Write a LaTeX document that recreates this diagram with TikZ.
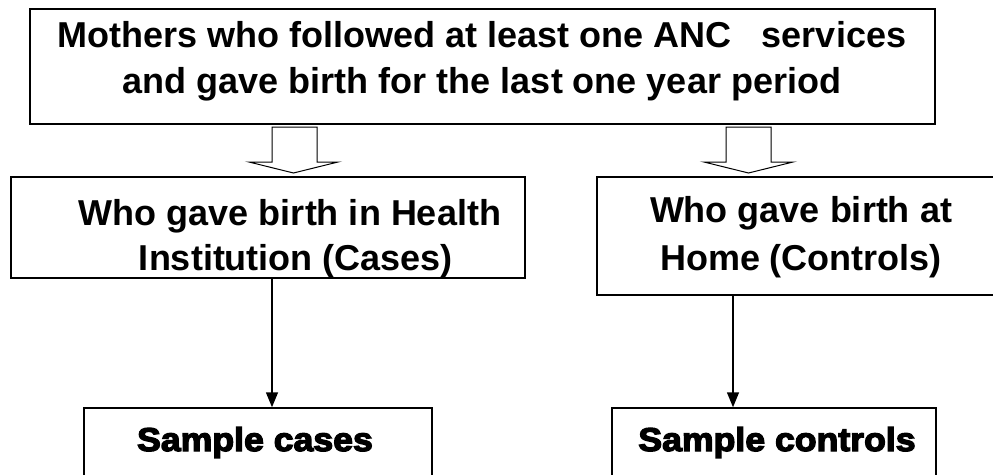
\documentclass[tikz,border=0pt]{standalone}
\usepackage{fontspec}
\setmainfont{Liberation Sans}
\newfontfamily\blackfont[FakeBold=4,FakeStretch=1.08]{Liberation Sans Bold}
\usetikzlibrary{arrows.meta}
\begin{document}
\begin{tikzpicture}[x=1pt,y=-1pt,
  box/.style={draw, line width=1.5pt, inner sep=0pt},
  blockarrow/.style={draw, line width=1pt, fill=white},
  conn/.style={draw, line width=1.5pt, -{Triangle[length=15pt,width=12pt]}},
  txt/.style={anchor=base, inner sep=0pt, font=\bfseries\fontsize{36}{40}\selectfont},
  blk/.style={anchor=base, inner sep=0pt, font=\blackfont\fontsize{33}{36}\selectfont}]
\useasboundingbox (0,0) rectangle (993,474);
\clip (0,0) rectangle (993,474);
% boxes
\node[box, minimum width=905pt, minimum height=115pt] (top) at (482.5,66.5) {};
\node[box, minimum width=514pt, minimum height=101pt] (mid1) at (268,227.5) {};
\node[box, minimum width=413pt, minimum height=118pt] (mid2) at (803.5,236) {};
\node[box, minimum width=348pt, minimum height=92pt] (bot1) at (258,454) {};
\node[box, minimum width=324pt, minimum height=92pt] (bot2) at (774,454) {};
% texts
\node[txt] (t1) at (482,47) {Mothers who followed at least one ANC\ \ \ services};
\node[txt] (t2) at (482,93) {and gave birth for the last one year period};
\node[txt] (m1a) at (290,225) {Who gave birth in Health};
\node[txt] (m1b) at (296,270) {Institution (Cases)};
\node[txt] (m2a) at (801,222) {Who gave birth at};
\node[txt] (m2b) at (801,270) {Home (Controls)};
\node[blk] (b1) at (255,451) {Sample cases};
\node[blk] (b2) at (777,451) {Sample controls};
% block arrows
\path[blockarrow] (272,127) -- (272,162) -- (249,162) -- (293.5,173) -- (338,162) -- (317,162) -- (317,127) -- cycle;
\path[blockarrow] (726,127) -- (726,162) -- (704,162) -- (748.5,173) -- (793,162) -- (771,162) -- (771,127) -- cycle;
% connectors
\coordinate (cl) at (272,0);
\coordinate (cr) at (733,0);
\draw[conn] (mid1.south -| cl) -- (bot1.north -| cl);
\draw[conn] (mid2.south -| cr) -- (bot2.north -| cr);
\end{tikzpicture}
\end{document}
